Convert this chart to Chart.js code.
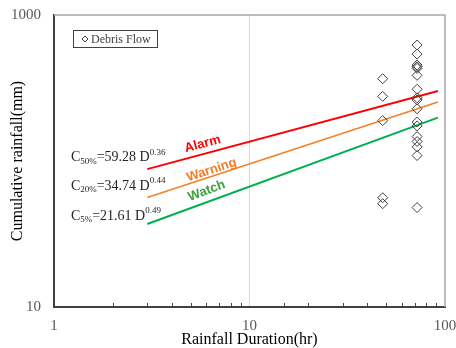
<!DOCTYPE html>
<html>
<head>
<meta charset="utf-8">
<script src="https://cdn.jsdelivr.net/npm/chart.js@4"></script>
<style>
  html, body { margin: 0; padding: 0; background: #fff; }
  #c { display: block; }
</style>
</head>
<body>
<canvas id="c" width="456" height="348"></canvas>
<script>
// Beobachtete Murgänge (Dauer in h, kumulierter Niederschlag in mm)
const debrisD = [48, 48, 48, 48, 48,
  72, 72, 72, 72, 72, 72, 72, 72, 72, 72, 72, 72, 72, 72, 72, 72, 72];
const debrisC = [366, 277, 189, 56, 51,
  623, 540, 454, 442, 431, 386, 310, 271, 262, 228, 185, 174, 147, 136, 125, 109, 48];

// Schwellenlinien (Endpunkte, log-log gerade)
const lineD = [3, 92];
const alarmC = [88.0, 301.9];
const warningC = [56.3, 254.0];
const watchC = [37.0, 198.1];

const xTickLabels = [1, 10, 100];
const yTickLabels = [10, 1000];

const SERIF = "'Liberation Serif', 'DejaVu Serif', serif";
const SANS = "'Liberation Sans', Arial, sans-serif";

const pts = (xs, ys) => xs.map((x, i) => ({ x, y: ys[i] }));

// Texte auf der Grafik: Gleichungen, Stufen-Labels, Legende, Rahmen
const extras = {
  id: "extras",
  afterDraw(chart) {
    const { ctx, chartArea: a, scales: { x, y } } = chart;
    ctx.save();

    // Rahmen oben/rechts grau
    ctx.strokeStyle = "#a6a6a6";
    ctx.lineWidth = 1.5;
    ctx.beginPath();
    ctx.moveTo(a.left, a.top); ctx.lineTo(a.right, a.top); ctx.lineTo(a.right, a.bottom);
    ctx.stroke();

    // kleine Teilstriche innen an der x-Achse
    ctx.strokeStyle = "#404040";
    ctx.lineWidth = 1;
    x.ticks.forEach(t => {
      const v = t.value;
      if (xTickLabels.includes(v)) return;
      const px = Math.round(x.getPixelForValue(v)) + 0.5;
      ctx.beginPath(); ctx.moveTo(px, a.bottom); ctx.lineTo(px, a.bottom - 4); ctx.stroke();
    });

    // Legende
    ctx.strokeStyle = "#404040";
    ctx.lineWidth = 1;
    ctx.strokeRect(a.left + 19.5, a.top + 15.5, 84, 17);
    ctx.beginPath();
    const lx = a.left + 31, ly = a.top + 24;
    ctx.moveTo(lx, ly - 3); ctx.lineTo(lx + 3, ly); ctx.lineTo(lx, ly + 3); ctx.lineTo(lx - 3, ly); ctx.closePath();
    ctx.stroke();
    ctx.fillStyle = "#404040";
    ctx.font = "12px " + SERIF;
    ctx.textBaseline = "middle";
    ctx.textAlign = "left";
    ctx.fillText("Debris Flow", lx + 6, ly + 0.5);

    // Gleichungen
    const eq = (d, c, sub, mid, sup) => {
      let px = x.getPixelForValue(d), py = y.getPixelForValue(c);
      ctx.fillStyle = "#262626";
      ctx.textBaseline = "middle";
      ctx.font = "14px " + SERIF;
      ctx.fillText("C", px, py); px += ctx.measureText("C").width;
      ctx.font = "9px " + SERIF;
      ctx.fillText(sub, px, py + 4); px += ctx.measureText(sub).width;
      ctx.font = "14px " + SERIF;
      ctx.fillText(mid, px, py); px += ctx.measureText(mid).width;
      ctx.font = "9px " + SERIF;
      ctx.fillText(sup, px, py - 5);
    };
    eq(1.22, 106, "50%", "=59.28 D", "0.36");
    eq(1.22, 67.4, "20%", "=34.74 D", "0.44");
    eq(1.22, 42, "5%", "=21.61 D", "0.49");

    // Stufen-Labels entlang der Linien
    const lab = (text, color, d, c, vals) => {
      const x1 = x.getPixelForValue(lineD[0]), x2 = x.getPixelForValue(lineD[1]);
      const y1 = y.getPixelForValue(vals[0]), y2 = y.getPixelForValue(vals[1]);
      const ang = Math.atan2(y2 - y1, x2 - x1);
      ctx.save();
      ctx.translate(x.getPixelForValue(d), y.getPixelForValue(c));
      ctx.rotate(ang);
      ctx.fillStyle = color;
      ctx.font = "bold 13px " + SANS;
      ctx.textAlign = "center";
      ctx.textBaseline = "middle";
      ctx.fillText(text, 0, 0);
      ctx.restore();
    };
    lab("Alarm", "#ff0000", 5.76, 130.6, alarmC);
    lab("Warning", "#f47b20", 6.4, 86.7, warningC);
    lab("Watch", "#3aa03a", 6.04, 62.4, watchC);

    ctx.restore();
  }
};

new Chart(document.getElementById("c"), {
  type: "scatter",
  data: {
    datasets: [
      { label: "Debris Flow", data: pts(debrisD, debrisC), pointStyle: "rectRot", pointRadius: 5,
        borderColor: "#404040", backgroundColor: "rgba(0,0,0,0)", borderWidth: 1 },
      { type: "line", label: "Alarm", data: pts(lineD, alarmC), borderColor: "#ff0000",
        borderWidth: 2, pointRadius: 0, fill: false },
      { type: "line", label: "Warning", data: pts(lineD, warningC), borderColor: "#f58025",
        borderWidth: 1.6, pointRadius: 0, fill: false },
      { type: "line", label: "Watch", data: pts(lineD, watchC), borderColor: "#00b050",
        borderWidth: 2, pointRadius: 0, fill: false },
    ]
  },
  options: {
    responsive: false, animation: false, devicePixelRatio: 1,
    layout: { padding: { left: 0, right: 11, top: 15, bottom: 0 } },
    plugins: { legend: { display: false }, tooltip: { enabled: false } },
    scales: {
      x: {
        type: "logarithmic", min: 1, max: 100,
        afterFit: s => { s.height = 41; s.paddingLeft = 0; s.paddingRight = 0; },
        border: { color: "#404040", width: 2 },
        grid: { drawTicks: false, color: c => (c.tick && c.tick.value === 10) ? "#d9d9d9" : "rgba(0,0,0,0)" },
        ticks: { autoSkip: false, maxRotation: 0, padding: 10, color: "#595959",
          font: { family: SERIF, size: 15 },
          callback: v => xTickLabels.includes(v) ? String(v) : "" },
        title: { display: true, text: "Rainfall Duration(hr)", color: "#000",
          font: { family: SERIF, size: 16, lineHeight: 1 }, padding: { top: 0, bottom: 0 } }
      },
      y: {
        type: "logarithmic", min: 10, max: 1000,
        afterFit: s => { s.width = 54; s.paddingTop = 0; s.paddingBottom = 0; },
        border: { color: "#404040", width: 2 },
        grid: { display: false, drawTicks: false },
        ticks: { autoSkip: false, padding: 13, color: "#595959",
          font: { family: SERIF, size: 15 },
          callback: v => yTickLabels.includes(v) ? String(v) : "" },
        title: { display: true, text: "Cumulative rainfall(mm)", color: "#000",
          font: { family: SERIF, size: 16 }, padding: { top: 8, bottom: 0 } }
      }
    }
  },
  plugins: [extras]
});
</script>
</body>
</html>
